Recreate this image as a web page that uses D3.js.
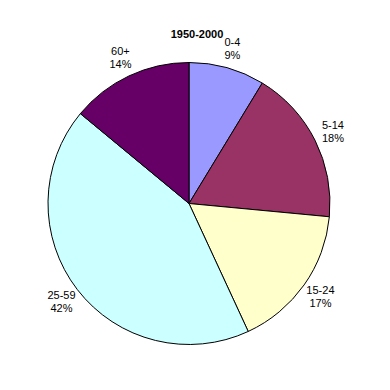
<!DOCTYPE html>
<html>
<head>
<meta charset="utf-8">
<script src="https://cdn.jsdelivr.net/npm/d3@7"></script>
<style>
  body { margin: 0; background: #fff; }
  text { font-family: "Liberation Sans", Arial, sans-serif; font-size: 11px; fill: #000; }
</style>
</head>
<body>
<script>
var title = "1950-2000";
var groups = ["0-4", "5-14", "15-24", "25-59", "60+"];
// slice sizes (percent of the circle)
var shares = [8.7, 17.8, 16.6, 42.9, 14.0];
// percent labels as printed on the chart
var pctLabels = ["9%", "18%", "17%", "42%", "14%"];
var colours = ["#9999FF", "#993366", "#FFFFCC", "#CCFFFF", "#660066"];

function main(){
  var width = 390, height = 390,
  cx = 189, cy = 203.5, radius = 141;

  var svg = d3.select("body")
            .append("svg")
            .attr("width", width)
            .attr("height", height);

  var data = groups.map(function(g, i){
    return {group: g, value: shares[i], label: pctLabels[i]};
  });

  var pie = d3.pie()
            .value(function(d){ return d.value; })
            .sort(null);

  var arc = d3.arc().innerRadius(0).outerRadius(radius);
  // labels sit a bit outside the rim, like excel does
  var labelArc = d3.arc().innerRadius(radius + 20).outerRadius(radius + 20);

  var colour = d3.scaleOrdinal().domain(groups).range(colours);

  var g = svg.append("g")
          .attr("transform", "translate(" + cx + "," + cy + ")");

  var arcs = pie(data);

  g.selectAll("path")
    .data(arcs)
    .enter()
    .append("path")
    .attr("d", arc)
    .attr("fill", function(d){ return colour(d.data.group); })
    .attr("stroke", "#000")
    .attr("stroke-width", 1);

  var label = g.selectAll("text.lbl")
    .data(arcs)
    .enter()
    .append("text")
    .attr("class", "lbl")
    .attr("text-anchor", "middle")
    .attr("transform", function(d){
      var c = labelArc.centroid(d);
      return "translate(" + c[0] + "," + c[1] + ")";
    });

  label.append("tspan")
    .attr("x", 0)
    .attr("y", -2.5)
    .text(function(d){ return d.data.group; });

  label.append("tspan")
    .attr("x", 0)
    .attr("y", 10.5)
    .text(function(d){ return d.data.label; });

  svg.append("text")
    .attr("x", 197)
    .attr("y", 38)
    .attr("text-anchor", "middle")
    .style("font-weight", "bold")
    .text(title);
}

main();
</script>
</body>
</html>
